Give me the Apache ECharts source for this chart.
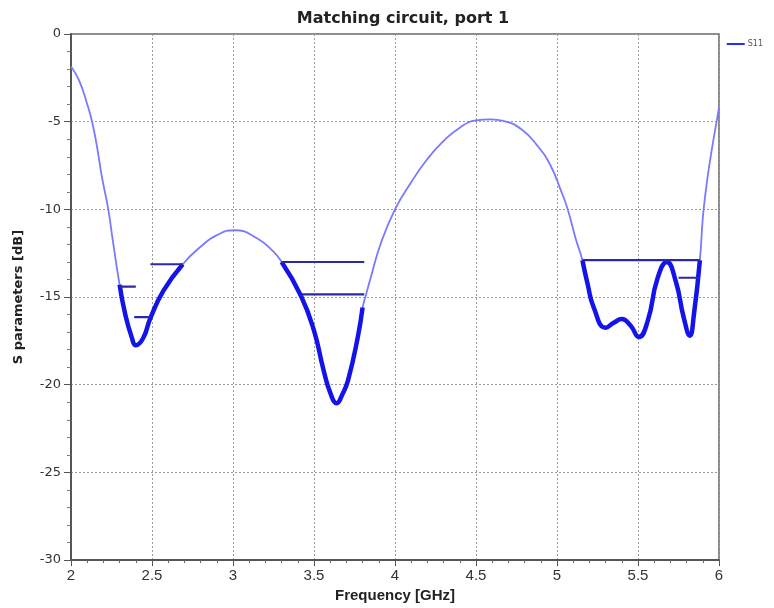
<!DOCTYPE html>
<html>
<head>
<meta charset="utf-8">
<title>Matching circuit, port 1</title>
<script src="https://cdn.jsdelivr.net/npm/echarts@6/dist/echarts.min.js"></script>
<style>
  html, body { margin: 0; padding: 0; background: #ffffff; }
  #chart { width: 774px; height: 608px; }
</style>
</head>
<body>
<div id="chart"></div>
<script>
// Reflection coefficient of the matching network, port 1
const freqGHz = [
  2.00, 2.05, 2.10, 2.13, 2.16, 2.19, 2.23, 2.26, 2.30, 2.335, 2.375, 2.40, 2.445, 2.49,
  2.57, 2.69, 2.80, 2.90, 3.01, 3.15, 3.25, 3.30, 3.42, 3.50, 3.56, 3.60, 3.64, 3.675,
  3.71, 3.77, 3.80, 3.82, 3.85, 3.91, 4.00, 4.10, 4.20, 4.30, 4.40, 4.50, 4.59, 4.67,
  4.78, 4.88, 4.96, 5.02, 5.065, 5.115, 5.157, 5.19, 5.227, 5.30, 5.35, 5.40, 5.455,
  5.505, 5.56, 5.62, 5.678, 5.733, 5.783, 5.82, 5.845, 5.882, 5.90, 5.92, 5.94, 5.97, 6.00
];
const s11dB = [
  -1.85, -2.65, -4.0, -5.0, -6.4, -8.1, -10.0, -11.9, -14.3, -16.0, -17.3, -17.75, -17.35, -16.2,
  -14.65, -13.13, -12.13, -11.47, -11.19, -11.66, -12.41, -13.0, -14.94, -16.92, -19.2, -20.45, -21.05, -20.55,
  -19.75, -17.3, -15.6, -14.9, -13.9, -12.0, -10.0, -8.45, -7.13, -6.1, -5.34, -4.93, -4.87, -4.96,
  -5.43, -6.38, -7.5, -8.83, -9.96, -11.66, -12.9, -14.3, -15.6, -16.75, -16.47, -16.25, -16.64,
  -17.28, -16.36, -13.95, -13.0, -14.1, -16.2, -17.2, -16.0, -12.9, -10.5, -8.83, -7.5, -5.8, -4.2
];

// Pass bands where the response is emphasised
const bandStart = [2.30, 3.30, 5.157];
const bandEnd   = [2.69, 3.80, 5.882];

// Specification mask segments
const maskStart = [2.30, 2.39, 2.49, 3.30, 3.42, 5.157, 5.75];
const maskEnd   = [2.40, 2.49, 2.69, 3.81, 3.81, 5.882, 5.882];
const maskLevel = [-14.4, -16.15, -13.13, -13.0, -14.85, -12.9, -13.9];

const xTicks = [2, 2.5, 3, 3.5, 4, 4.5, 5, 5.5, 6];
const yTicks = [0, -5, -10, -15, -20, -25, -30];

const curve = freqGHz.map((f, i) => [f, s11dB[i]]);

const series = [{
  name: 'S11',
  type: 'line',
  data: curve,
  smooth: 0.5,
  showSymbol: false,
  lineStyle: { color: '#7a7aff', width: 1.8 },
  itemStyle: { color: '#2c2cf0' },
  z: 2
}];

bandStart.forEach((a, k) => {
  series.push({
    name: 'band' + k,
    type: 'line',
    data: curve.filter(p => p[0] >= a - 1e-9 && p[0] <= bandEnd[k] + 1e-9),
    smooth: 0.5,
    showSymbol: false,
    lineStyle: { color: '#1414ea', width: 4.5 },
    z: 3
  });
});

maskStart.forEach((a, k) => {
  series.push({
    name: 'mask' + k,
    type: 'line',
    data: [[a, maskLevel[k]], [maskEnd[k], maskLevel[k]]],
    showSymbol: false,
    lineStyle: { color: '#2a2aa6', width: 2.2 },
    z: 4
  });
});

const chart = echarts.init(document.getElementById('chart'), null, { renderer: 'canvas' });
chart.setOption({
  animation: false,
  backgroundColor: '#ffffff',
  title: {
    text: 'Matching circuit, port 1',
    left: 398,
    top: 6,
    textAlign: 'center',
    textStyle: { fontFamily: 'DejaVu Sans', fontSize: 16, fontWeight: 'bold', color: '#222' }
  },
  legend: {
    data: ['S11'],
    right: 6,
    top: 35,
    itemWidth: 18,
    itemHeight: 2,
    itemGap: 4,
    icon: 'rect',
    textStyle: { fontFamily: 'DejaVu Sans', fontSize: 8, color: '#555', padding: [0, 0, 0, -2] }
  },
  grid: {
    left: 71, right: 55, top: 34, bottom: 44,
    show: true,
    borderColor: '#666',
    borderWidth: 1.5
  },
  xAxis: {
    type: 'value',
    min: 2, max: 6, interval: 0.5,
    name: 'Frequency [GHz]',
    nameLocation: 'middle',
    nameGap: 26,
    nameTextStyle: { fontFamily: 'Liberation Sans Narrow, Liberation Sans', fontSize: 15, fontWeight: 'bold', color: '#222' },
    axisLine: { show: true, onZero: false, lineStyle: { color: '#555', width: 2 } },
    axisTick: { show: true, length: 6, lineStyle: { color: '#555' } },
    minorTick: { show: true, splitNumber: 5, length: 3, lineStyle: { color: '#666' } },
    axisLabel: {
      margin: 8,
      fontFamily: 'Liberation Sans Narrow, Liberation Sans',
      fontSize: 15,
      color: '#333',
      formatter: v => xTicks.includes(v) ? String(v) : ''
    },
    splitLine: { show: true, lineStyle: { color: '#9a9a9a', type: [2, 2], width: 1 } }
  },
  yAxis: {
    type: 'value',
    min: -30, max: 0, interval: 5,
    name: 'S parameters [dB]',
    nameLocation: 'middle',
    nameGap: 46,
    nameTextStyle: { fontFamily: 'DejaVu Sans', fontSize: 13, fontWeight: 'bold', color: '#222' },
    axisLine: { show: true, onZero: false, lineStyle: { color: '#555', width: 2 } },
    axisTick: { show: true, length: 7, lineStyle: { color: '#555' } },
    minorTick: { show: true, splitNumber: 5, length: 4, lineStyle: { color: '#777' } },
    axisLabel: {
      margin: 10,
      fontFamily: 'DejaVu Sans',
      fontSize: 13,
      color: '#333',
      formatter: v => yTicks.includes(v) ? String(v) : ''
    },
    splitLine: { show: true, lineStyle: { color: '#9a9a9a', type: [2, 2], width: 1 } }
  },
  series: series
});
</script>
</body>
</html>
